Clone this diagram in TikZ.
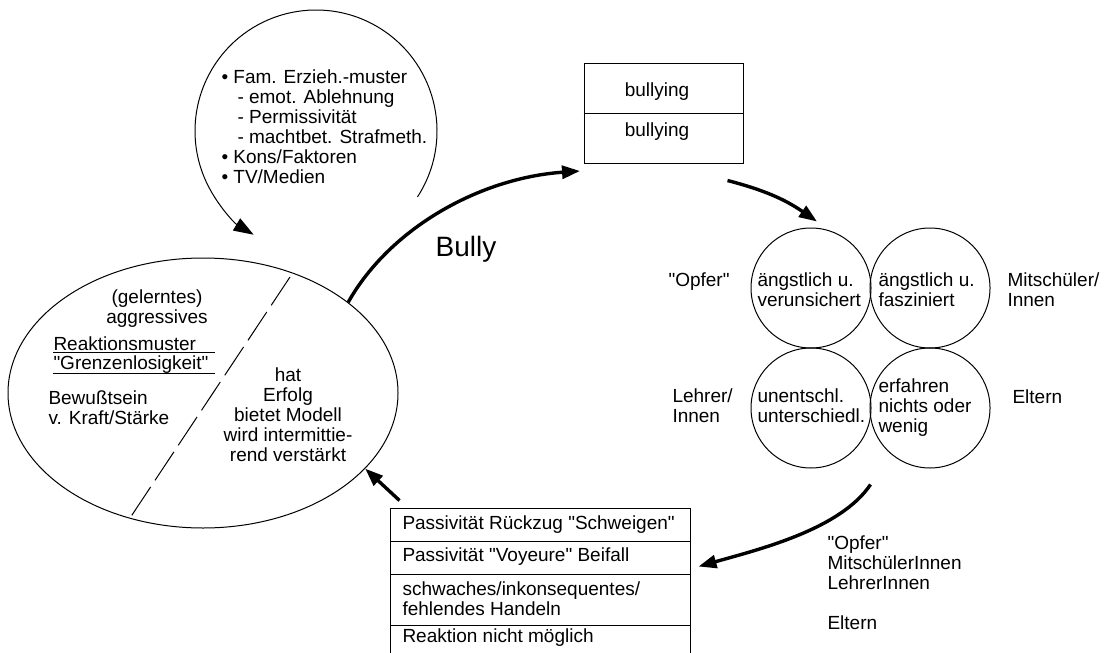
\documentclass[tikz,border=0pt]{standalone}
\usepackage{fontspec}
\setmainfont{Liberation Sans}
\usetikzlibrary{shapes.geometric,arrows.meta,calc}
\newcommand{\pQuote}[1]{\textquotedbl#1\textquotedbl}

\begin{document}
\begin{tikzpicture}[x=0.5pt,y=-0.5pt,line width=0.5pt,
  txt/.style={inner sep=0pt, font=\fontsize{9.5}{10}\selectfont},
  ring/.style={draw, circle, minimum size=60pt, inner sep=0pt},
  fatArrow/.style={line width=1.7pt, -{Triangle[length=9pt,width=6.5pt]}},
  thinArrow/.style={line width=0.5pt, -{Triangle[length=10pt,width=7pt]}}]
\useasboundingbox (0,0) rectangle (1106,652);
\node[draw, ellipse, minimum width=195pt, minimum height=135pt, inner sep=0pt] (lern) at (203,393) {};
\draw[dash pattern=on 17pt off 4pt] (290,277) -- (130,518);
\node[txt, align=center] (gel) at (157,309) {(gelerntes)\\aggressives};
\node[txt, anchor=base west] (reak) at (53,350) {Reaktionsmuster};
\node[txt, anchor=base west] (grenz) at (53,369) {\pQuote{Grenzenlosigkeit}};
\draw (53,352) -- (215,352);
\draw (53,373) -- (215,373);
\node[txt, anchor=west, align=left] (bew) at (48,408) {Bewußtsein\\v. Kraft/Stärke};
\node[txt, align=center] (erf) at (288,415) {hat\\Erfolg\\bietet Modell\\wird intermittie-\\rend verstärkt};
\coordinate (famc) at (316,131);
\draw[thinArrow] (famc) ++(33:121) arc[start angle=33, end angle=-239, radius=121];
\node[txt, anchor=west, align=left] (fam) at (221,127) {\textbullet\ Fam. Erzieh.-muster\\\hspace*{8pt}- emot. Ablehnung\\\hspace*{8pt}- Permissivität\\\hspace*{8pt}- machtbet. Strafmeth.\\\textbullet\ Kons/Faktoren\\\textbullet\ TV/Medien};
\node[draw, minimum width=79.5pt, minimum height=50pt, inner sep=0pt] (bullybox) at (663.5,114) {};
\draw (bullybox.west) -- (bullybox.east);
\node[txt] (bl1) at (657,92) {bullying};
\node[txt] (bl2) at (657,132) {bullying};
\coordinate (bullyend) at (580,171);
\draw[fatArrow] (lern.32) .. controls (390,228) and (480,178) .. (bullyend);
\node[anchor=base, inner sep=0pt, font=\fontsize{14}{16}\selectfont] (bullylbl) at (466,256) {Bully};
\node[ring] (c1) at (811,288) {};
\node[ring] (c2) at (930,288) {};
\node[ring] (c3) at (811,408) {};
\node[ring] (c4) at (930,408) {};
\node[txt, anchor=west, align=left] (c1t) at (757,290) {ängstlich u.\\verunsichert};
\node[txt, anchor=west, align=left] (c2t) at (878,290) {ängstlich u.\\fasziniert};
\node[txt, anchor=west, align=left] (c3t) at (757,406) {unentschl.\\unterschiedl.};
\node[txt, anchor=west, align=left] (c4t) at (878,408) {erfahren\\nichts oder\\wenig};
\node[txt, anchor=west] (opf) at (668,282) {\pQuote{Opfer}};
\node[txt, anchor=west, align=left] (mits) at (1007,290) {Mitschüler/\\Innen};
\node[txt, anchor=west, align=left] (lehr) at (672,406) {Lehrer/\\Innen};
\node[txt, anchor=west] (elt) at (1012,397) {Eltern};
\draw[fatArrow] ($(bullybox.south east)+(-16,16)$) to[bend left=10] ($(c1.north)+(6,-6)$);
\node[minimum width=149.5pt, minimum height=71.5pt, inner sep=0pt] (reakt) at (540.5,580.5) {};
\draw (reakt.south west) |- (reakt.north east) -- (reakt.south east);
\foreach \yy in {541,574,625}
  \draw (391,\yy) -- (690,\yy);
\node[txt, anchor=west] (r1) at (402,525) {Passivität Rückzug \pQuote{Schweigen}};
\node[txt, anchor=west] (r2) at (402,557) {Passivität \pQuote{Voyeure} Beifall};
\node[txt, anchor=west, align=left, font=\fontsize{9.5}{8}\selectfont] (r3) at (402,599) {schwaches/inkonsequentes/\\fehlendes Handeln};
\node[txt, anchor=west] (r4) at (402,638) {Reaktion nicht möglich};
\draw[fatArrow] ($(c3.south)!0.5!(c4.south)+(0,16)$) .. controls +(-30,45) and +(60,-17) .. ($(reakt.north east)+(8,58)$);
\draw[fatArrow] ($(reakt.north west)+(9,-8)$) -- (lern.-25);
\node[txt, anchor=west, align=left] (wer) at (827,583) {\pQuote{Opfer}\\MitschülerInnen\\LehrerInnen\\[10pt]Eltern};
\end{tikzpicture}
\end{document}
